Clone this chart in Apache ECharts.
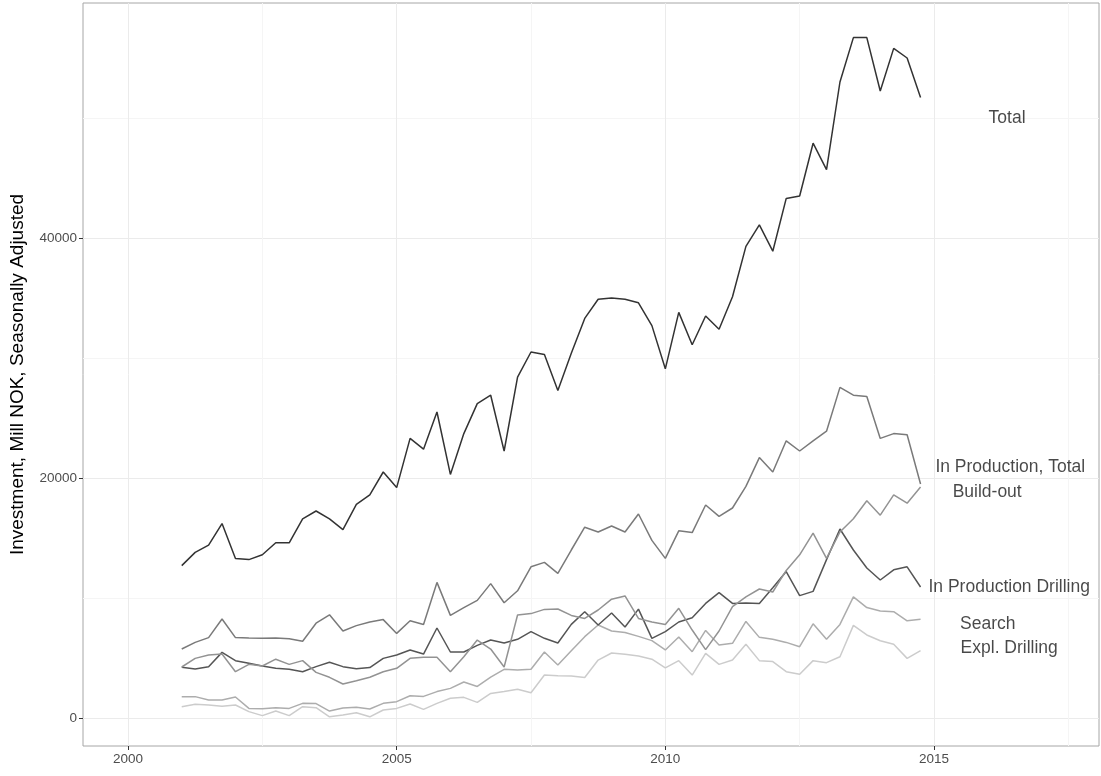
<!DOCTYPE html>
<html>
<head>
<meta charset="utf-8">
<script src="https://cdn.jsdelivr.net/npm/echarts@6/dist/echarts.min.js"></script>
<style>
  html, body { margin: 0; padding: 0; background: #fff; }
  #chart { width: 1101px; height: 776px; }
</style>
</head>
<body>
<div id="chart"></div>
<script>
// quarters 2001Q1 .. 2014Q4
var quarters = [];
for (var yr = 2001; yr <= 2014; yr++) {
  for (var q = 0; q < 4; q++) quarters.push(yr + q / 4);
}

// values in thousands of mill NOK
var total = [12.7,13.8,14.4,16.2,13.3,13.2,13.6,14.6,14.6,16.6,17.25,16.6,15.7,17.8,18.6,20.5,
  19.2,23.3,22.4,25.5,20.3,23.7,26.2,26.9,22.25,28.4,30.5,30.3,27.3,30.4,33.3,34.9,
  35.0,34.9,34.6,32.7,29.1,33.8,31.1,33.5,32.4,35.1,39.3,41.1,38.9,43.3,43.5,47.9,
  45.7,53.0,56.7,56.7,52.25,55.8,55.0,51.7];
var inProdTotal = [5.75,6.3,6.7,8.25,6.7,6.67,6.65,6.67,6.6,6.4,7.9,8.6,7.25,7.7,8.0,8.2,
  7.05,8.1,7.8,11.3,8.55,9.2,9.8,11.2,9.6,10.6,12.6,12.97,12.05,14.0,15.9,15.5,
  16.0,15.5,17.0,14.8,13.3,15.6,15.45,17.75,16.8,17.5,19.3,21.7,20.5,23.1,22.25,23.1,
  23.9,27.55,26.9,26.8,23.3,23.7,23.6,19.5];
var buildOut = [4.25,4.97,5.25,5.33,3.86,4.47,4.33,4.9,4.47,4.78,3.8,3.39,2.83,3.11,3.4,3.86,
  4.14,4.97,5.06,5.06,3.86,5.1,6.5,5.75,4.25,8.58,8.7,9.05,9.08,8.55,8.3,9.0,
  9.9,10.17,8.3,8.0,7.8,9.14,7.33,5.7,7.25,9.28,10.1,10.75,10.5,12.3,13.6,15.4,
  13.3,15.5,16.6,18.1,16.9,18.6,17.9,19.25];
var inProdDrilling = [4.22,4.08,4.28,5.47,4.78,4.56,4.33,4.14,4.06,3.86,4.28,4.64,4.28,4.1,4.2,4.97,
  5.25,5.67,5.33,7.5,5.5,5.5,6.05,6.5,6.25,6.56,7.2,6.64,6.25,7.8,8.86,7.75,
  8.75,7.58,9.07,6.64,7.2,8.0,8.36,9.55,10.45,9.55,9.58,9.55,10.85,12.2,10.2,10.55,
  13.2,15.75,14.0,12.5,11.5,12.35,12.6,10.92];
var search = [1.78,1.78,1.5,1.5,1.75,0.8,0.78,0.86,0.8,1.22,1.2,0.58,0.83,0.9,0.75,1.22,
  1.36,1.85,1.8,2.2,2.47,3.0,2.63,3.4,4.06,4.0,4.06,5.5,4.42,5.6,6.78,7.75,
  7.25,7.12,6.8,6.45,5.67,6.75,5.53,7.3,6.08,6.22,8.05,6.72,6.56,6.3,5.94,7.85,
  6.56,7.8,10.1,9.2,8.92,8.86,8.1,8.22];
var explDrilling = [0.94,1.14,1.08,0.97,1.08,0.53,0.2,0.58,0.2,0.94,0.86,0.1,0.25,0.43,0.1,0.67,
  0.8,1.17,0.72,1.22,1.64,1.72,1.3,2.05,2.2,2.39,2.1,3.58,3.53,3.5,3.38,4.83,
  5.42,5.32,5.17,4.9,4.18,4.78,3.58,5.39,4.47,4.83,6.14,4.78,4.7,3.86,3.64,4.78,
  4.61,5.1,7.72,6.92,6.44,6.14,4.97,5.61];

var seriesNames = ['Total', 'In Production, Total', 'Build-out', 'In Production Drilling', 'Search', 'Expl. Drilling'];
var seriesData = [total, inProdTotal, buildOut, inProdDrilling, search, explDrilling];
var seriesColors = ['#333333', '#7a7a7a', '#939393', '#555555', '#adadad', '#cccccc'];

// text labels placed at data coordinates
var labelX = [2016.36, 2016.42, 2015.99, 2016.4, 2016.0, 2016.4];
var labelY = [50000, 20900, 18850, 10900, 7830, 5830];

var xMajor = [2000, 2005, 2010, 2015];
var xMinor = [2002.5, 2007.5, 2012.5, 2017.5];
var yMajor = [0, 20000, 40000];
var yMinor = [10000, 30000, 50000];

var xMin = 1999.1625, xMax = 2018.071;
var yMin = -2333, yMax = 59583;

var myChart = echarts.init(document.getElementById('chart'));

var series = [];
for (var s = 0; s < seriesNames.length; s++) {
  series.push({
    name: seriesNames[s],
    type: 'line',
    showSymbol: false,
    symbol: 'none',
    data: quarters.map(function (x, i) { return [x, seriesData[s][i] * 1000]; }),
    lineStyle: { color: seriesColors[s], width: 1.5 },
    itemStyle: { color: seriesColors[s] },
    z: 10 - s
  });
}
series.push({
  type: 'scatter',
  symbolSize: 0,
  data: seriesNames.map(function (n, i) { return { name: n, value: [labelX[i], labelY[i]] }; }),
  label: {
    show: true,
    position: 'inside',
    formatter: '{b}',
    color: '#1a1a1a',
    fontSize: 17.5,
    fontFamily: 'Liberation Sans'
  },
  z: 20
});

var plain = function (v) { return String(v); };

var option = {
  animation: false,
  backgroundColor: '#fff',
  textStyle: { fontFamily: 'Liberation Sans' },
  grid: {
    left: 83, right: 2, top: 3, bottom: 30,
    show: true,
    borderColor: '#a6a6a6',
    borderWidth: 1
  },
  xAxis: [
    {
      type: 'value',
      min: xMin, max: xMax,
      axisLine: { show: false, onZero: false },
      axisTick: { show: true, customValues: xMajor, length: 4, lineStyle: { color: '#333' } },
      axisLabel: { customValues: xMajor, formatter: plain, color: '#4d4d4d', fontSize: 13.5, margin: 6 },
      splitLine: { show: true, lineStyle: { color: '#ebebeb', width: 1 } }
    },
    {
      type: 'value',
      position: 'bottom',
      min: xMin, max: xMax,
      axisLine: { show: false, onZero: false },
      axisTick: { show: false, customValues: xMinor },
      axisLabel: { show: false },
      splitLine: { show: true, lineStyle: { color: '#f5f5f5', width: 1 } }
    }
  ],
  yAxis: [
    {
      type: 'value',
      min: yMin, max: yMax,
      name: 'Investment, Mill NOK, Seasonally Adjusted',
      nameLocation: 'middle',
      nameGap: 56,
      nameTextStyle: { color: '#000', fontSize: 19 },
      axisLine: { show: false, onZero: false },
      axisTick: { show: true, customValues: yMajor, length: 4, lineStyle: { color: '#333' } },
      axisLabel: { customValues: yMajor, formatter: plain, color: '#4d4d4d', fontSize: 13.5, margin: 6 },
      splitLine: { show: true, lineStyle: { color: '#ebebeb', width: 1 } }
    },
    {
      type: 'value',
      position: 'left',
      min: yMin, max: yMax,
      axisLine: { show: false, onZero: false },
      axisTick: { show: false, customValues: yMinor },
      axisLabel: { show: false },
      splitLine: { show: true, lineStyle: { color: '#f5f5f5', width: 1 } }
    }
  ],
  series: series
};

myChart.setOption(option);
</script>
</body>
</html>
